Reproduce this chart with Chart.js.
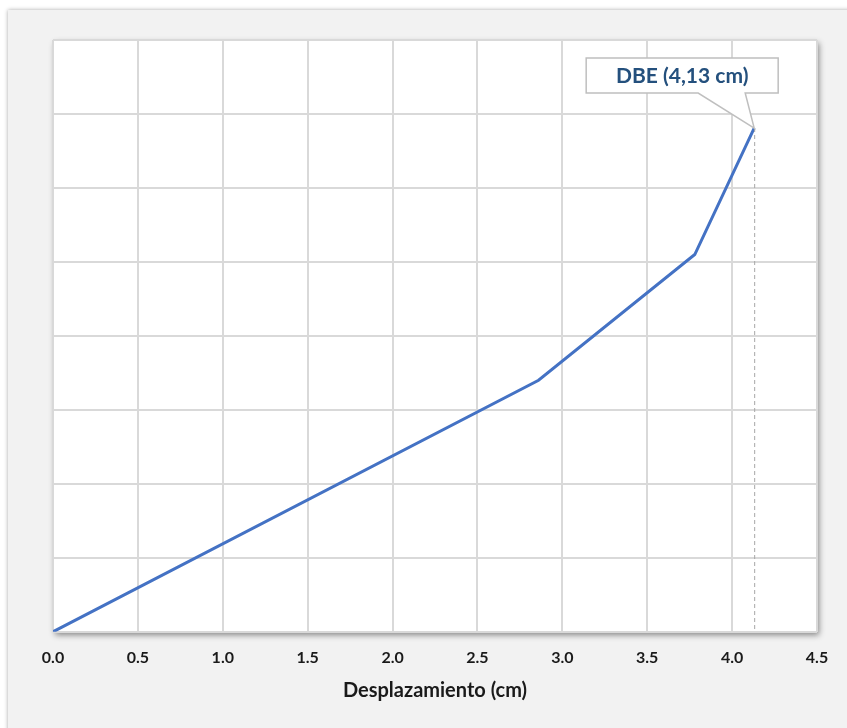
<!DOCTYPE html>
<html>
<head>
<meta charset="utf-8">
<script src="https://cdn.jsdelivr.net/npm/chart.js@4.4.1/dist/chart.umd.min.js"></script>
<style>
  html, body { margin: 0; padding: 0; background: #ffffff; width: 847px; height: 728px; overflow: hidden; }
  #panel { position: absolute; left: 8px; top: 10px; width: 860px; height: 740px; background: #f2f2f2; box-shadow: 0 0 4px rgba(0,0,0,0.35); }
  #wrap { position: absolute; left: 0; top: 0; width: 847px; height: 728px; }
</style>
</head>
<body>
<div id="panel"></div>
<div id="wrap"><canvas id="c" width="847" height="728"></canvas></div>
<script>
// Capacity curve: displacement (cm) vs. base shear (relative units)
const displacement = [0, 2.86, 3.78, 4.13];
const shear = [0, 3.40, 5.10, 6.81];
const xTicks = [0, 0.5, 1.0, 1.5, 2.0, 2.5, 3.0, 3.5, 4.0, 4.5];
const calloutText = 'DBE (4,13 cm)';
const calloutIndex = 3;

const points = displacement.map((x, i) => ({ x: x, y: shear[i] }));

// White plot area with a soft drop shadow
const plotShadow = {
  id: 'plotShadow',
  beforeDraw(chart) {
    const { ctx, chartArea: a } = chart;
    ctx.save();
    ctx.shadowColor = 'rgba(0,0,0,0.45)';
    ctx.shadowBlur = 6;
    ctx.shadowOffsetX = 2;
    ctx.shadowOffsetY = 3;
    ctx.fillStyle = '#ffffff';
    ctx.fillRect(a.left, a.top, a.right - a.left, a.bottom - a.top);
    ctx.restore();
  }
};

// Dashed drop line and callout for the design displacement point
const callout = {
  id: 'callout',
  afterDatasetsDraw(chart) {
    const { ctx, chartArea: a, scales } = chart;
    const px = scales.x.getPixelForValue(displacement[calloutIndex]);
    const py = scales.y.getPixelForValue(shear[calloutIndex]);
    ctx.save();
    ctx.strokeStyle = '#a6a6a6';
    ctx.lineWidth = 1;
    ctx.setLineDash([4, 3]);
    ctx.beginPath();
    ctx.moveTo(px + 0.5, py);
    ctx.lineTo(px + 0.5, a.bottom);
    ctx.stroke();
    ctx.setLineDash([]);

    const bx = px - 168, by = py - 70, bw = 192, bh = 35;
    ctx.beginPath();
    ctx.moveTo(bx, by);
    ctx.lineTo(bx + bw, by);
    ctx.lineTo(bx + bw, by + bh);
    ctx.lineTo(px - 9, by + bh);
    ctx.lineTo(px, py);
    ctx.lineTo(px - 56, by + bh);
    ctx.lineTo(bx, by + bh);
    ctx.closePath();
    ctx.fillStyle = '#ffffff';
    ctx.fill();
    ctx.strokeStyle = '#bfbfbf';
    ctx.lineWidth = 1.5;
    ctx.stroke();

    ctx.fillStyle = '#24507d';
    ctx.font = 'bold 21px Lato, "Open Sans", sans-serif';
    ctx.textAlign = 'center';
    ctx.textBaseline = 'middle';
    ctx.fillText(calloutText, bx + bw / 2, by + bh / 2 + 1);
    ctx.restore();
  }
};

new Chart(document.getElementById('c'), {
  type: 'scatter',
  data: {
    datasets: [{
      data: points,
      showLine: true,
      borderColor: '#4472c4',
      backgroundColor: '#4472c4',
      borderWidth: 3,
      pointRadius: 0,
      tension: 0
    }]
  },
  options: {
    responsive: false,
    animation: false,
    events: [],
    layout: { padding: { left: 53, right: 30, top: 40, bottom: 25 } },
    plugins: { legend: { display: false }, tooltip: { enabled: false } },
    scales: {
      x: {
        type: 'linear',
        min: 0,
        max: 4.5,
        afterBuildTicks(axis) { axis.ticks = xTicks.map(v => ({ value: v })); },
        grid: { color: '#d9d9d9', lineWidth: 2, drawTicks: false },
        border: { display: false },
        ticks: {
          padding: 16,
          color: '#1a1a1a',
          font: { family: 'Lato, "Open Sans", sans-serif', size: 16, weight: 'bold' },
          callback: v => Number(v).toFixed(1),
          maxRotation: 0,
          autoSkip: false
        },
        title: {
          display: true,
          text: 'Desplazamiento (cm)',
          color: '#1a1a1a',
          font: { family: 'Lato, "Open Sans", sans-serif', size: 20, weight: 'bold' },
          padding: { top: -4, bottom: 0 }
        }
      },
      y: {
        type: 'linear',
        min: 0,
        max: 8,
        ticks: { display: false, stepSize: 1 },
        grid: { color: '#d9d9d9', lineWidth: 2, drawTicks: false },
        border: { display: false }
      }
    }
  },
  plugins: [plotShadow, callout]
});
</script>
</body>
</html>
